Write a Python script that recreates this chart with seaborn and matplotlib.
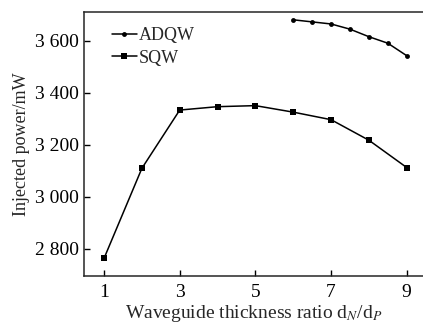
import matplotlib
matplotlib.use("Agg")
import matplotlib.pyplot as plt
import seaborn as sns
import pandas as pd

# data
sqw_x = [1, 2, 3, 4, 5, 6, 7, 8, 9]
sqw_y = [2763, 3109, 3333, 3346, 3350, 3325, 3296, 3217, 3112]
adqw_x = [6, 6.5, 7, 7.5, 8, 8.5, 9]
adqw_y = [3680, 3672, 3664, 3644, 3615, 3590, 3542]

x_ticks = [1, 3, 5, 7, 9]
y_ticks = [2800, 3000, 3200, 3400, 3600]
y_labels = ["2 800", "3 000", "3 200", "3 400", "3 600"]

sns.set_style("ticks")
plt.rcParams["font.family"] = ["Liberation Serif", "DejaVu Serif"]
plt.rcParams["mathtext.fontset"] = "stix"

df = pd.concat([
    pd.DataFrame({"x": adqw_x, "y": adqw_y, "series": "ADQW"}),
    pd.DataFrame({"x": sqw_x, "y": sqw_y, "series": "SQW"}),
])

fig = plt.figure(figsize=(4.23, 3.25), dpi=100)
ax = fig.add_axes([84 / 423, 49 / 325, 339 / 423, 264 / 325])

sns.lineplot(data=df[df.series == "ADQW"], x="x", y="y", ax=ax, color="black",
             marker="o", markersize=3.5, linewidth=1.1, label="ADQW",
             markeredgewidth=0)
sns.lineplot(data=df[df.series == "SQW"], x="x", y="y", ax=ax, color="black",
             marker="s", markersize=4, linewidth=1.1, label="SQW",
             markeredgewidth=0)

ax.set_xlim(0.47, 9.43)
ax.set_ylim(2695, 3710)
ax.set_xticks(x_ticks)
ax.set_yticks(y_ticks)
ax.set_yticklabels(y_labels)
ax.tick_params(direction="in", length=4, width=1, labelsize=14, colors="black")
ax.tick_params(axis="x", pad=6)
ax.spines["right"].set_visible(False)
for s in ["left", "bottom", "top"]:
    ax.spines[s].set_linewidth(1.1)

ax.set_xlabel("Waveguide thickness ratio d$_N$/d$_P$", fontsize=14, labelpad=1)
ax.set_ylabel("Injected power/mW", fontsize=13, labelpad=4)

ax.legend(loc="upper left", bbox_to_anchor=(0.06, 0.97), frameon=False,
          fontsize=13, handlelength=1.4, handletextpad=0.1, labelspacing=0.3,
          borderaxespad=0)

fig.savefig("out.png", dpi=100)
